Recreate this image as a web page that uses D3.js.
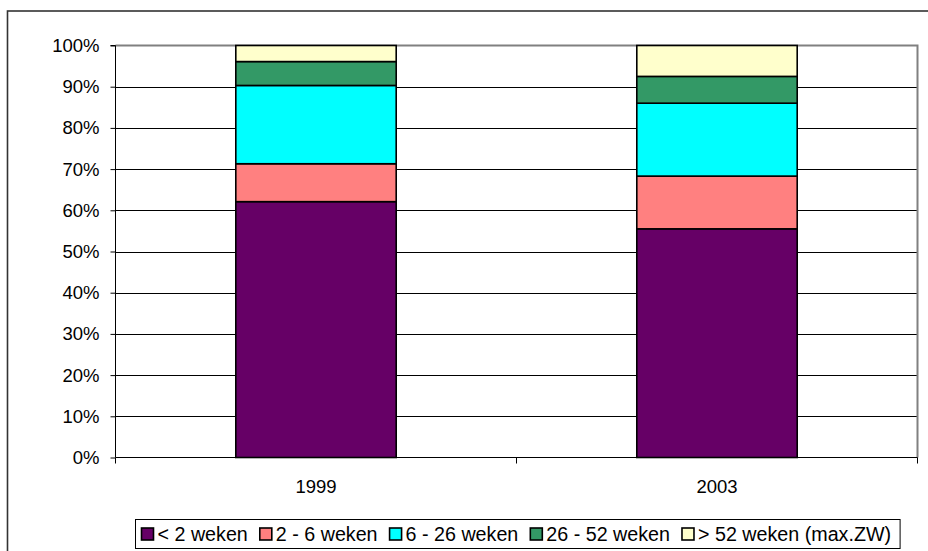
<!DOCTYPE html>
<html><head><meta charset="utf-8">
<script src="https://cdn.jsdelivr.net/npm/d3@7"></script>
<style>html,body{margin:0;padding:0;background:#fff;} svg{display:block;font-family:"Liberation Sans",Arial,sans-serif;}</style>
</head><body>
<svg id="c" width="928" height="551"></svg>
<script>
const categories = ["1999", "2003"];
const seriesNames = ["< 2 weken", "2 - 6 weken", "6 - 26 weken", "26 - 52 weken", "> 52 weken (max.ZW)"];
const seriesColors = ["#660066", "#FF8080", "#00FFFF", "#339966", "#FFFFCC"];
const lt2 = [62.1, 55.5];
const w2to6 = [9.2, 12.8];
const w6to26 = [19.0, 17.7];
const w26to52 = [5.8, 6.5];
const gt52 = [3.9, 7.5];
const yTicks = [0, 10, 20, 30, 40, 50, 60, 70, 80, 90, 100];

const svg = d3.select("#c");
const m = {l: 115.5, r: 917.5, t: 45.5, b: 457.5};

// outer chart area border (clipped by the viewport on right/bottom)
svg.append("rect").attr("x", 7.5).attr("y", 11).attr("width", 1000).attr("height", 1000)
  .attr("fill", "none").attr("stroke", "#333").attr("stroke-width", 1.6);

const x = d3.scaleBand().domain(categories).range([m.l, m.r]).paddingInner(0).paddingOuter(0);
const y = d3.scaleLinear().domain([0, 100]).range([m.b, m.t]);

// gridlines
svg.append("g").selectAll("line").data(yTicks.filter(t => t > 0 && t < 100)).join("line")
  .attr("x1", m.l).attr("x2", m.r).attr("y1", d => Math.round(y(d)) + 0.5).attr("y2", d => Math.round(y(d)) + 0.5)
  .attr("stroke", "#000").attr("stroke-width", 1);

// plot border top & right (gray)
svg.append("path").attr("d", `M${m.l},${m.t}H${m.r}V${m.b}`).attr("fill", "none").attr("stroke", "#808080").attr("stroke-width", 2);

// stacked data
const rows = categories.map((c, i) => ({cat: c, s0: lt2[i], s1: w2to6[i], s2: w6to26[i], s3: w26to52[i], s4: gt52[i]}));
const keys = ["s0", "s1", "s2", "s3", "s4"];
const stack = d3.stack().keys(keys)(rows);
const bw = x.bandwidth() / 2.5;

svg.append("g").selectAll("g").data(stack).join("g")
  .attr("fill", (d, i) => seriesColors[i])
  .selectAll("rect").data(d => d).join("rect")
  .attr("x", d => x(d.data.cat) + (x.bandwidth() - bw) / 2)
  .attr("width", bw)
  .attr("y", d => y(d[1]))
  .attr("height", d => y(d[0]) - y(d[1]))
  .attr("stroke", "#000").attr("stroke-width", 1.6);

// y axis
const yAxis = d3.axisLeft(y).tickValues(yTicks).tickFormat(d => d + "%").tickSize(5).tickPadding(11);
const gy = svg.append("g").attr("transform", `translate(${m.l},0)`).call(yAxis);
gy.select(".domain").attr("stroke", "#000").attr("d", `M-5,${m.t}H0V${m.b}`);
gy.selectAll("text").attr("font-size", 18.5).attr("fill", "#000").attr("font-family", "Liberation Sans, Arial, sans-serif");

// x axis
const gx = svg.append("g").attr("transform", `translate(0,${m.b})`);
gx.append("line").attr("x1", m.l).attr("x2", m.r).attr("stroke", "#000");
const bounds = [m.l, ...categories.map(c => x(c) + x.bandwidth())];
gx.selectAll(".tk").data(bounds).join("line").attr("class", "tk")
  .attr("x1", d => d).attr("x2", d => d).attr("y1", 0).attr("y2", 6).attr("stroke", "#000");
gx.selectAll("text").data(categories).join("text")
  .attr("x", d => x(d) + x.bandwidth() / 2).attr("y", 35)
  .attr("text-anchor", "middle").attr("font-size", 18.5).text(d => d);

// legend
const lg = svg.append("g");
const box = lg.append("rect").attr("y", 519.5).attr("height", 29).attr("fill", "#fff").attr("stroke", "#000").attr("stroke-width", 1);
let cx = 141.5;
seriesNames.forEach((n, i) => {
  lg.append("rect").attr("x", cx).attr("y", 528).attr("width", 12).attr("height", 12)
    .attr("fill", seriesColors[i]).attr("stroke", "#000").attr("stroke-width", 1.6);
  const t = lg.append("text").attr("x", cx + 16).attr("y", 541).attr("font-size", 19.7).text(n);
  const w = t.node().getComputedTextLength();
  cx = cx + 16 + w + (i < seriesNames.length - 1 ? 12 : 0);
});
box.attr("x", 135.5).attr("width", cx - 135.5 + 9);
</script>
</body></html>
